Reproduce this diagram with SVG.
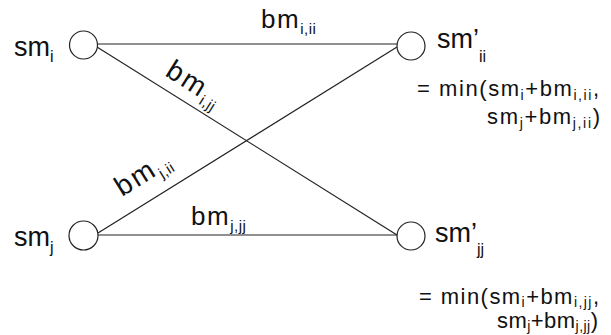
<svg xmlns="http://www.w3.org/2000/svg" width="611" height="335" viewBox="0 0 611 335">
<style>
text{font-family:"Liberation Sans",Arial,sans-serif;fill:#111}
.lbl{font-size:27px}
.sub{font-size:16px}
.edge{font-size:26px;letter-spacing:1.5px}
.diag{font-size:28px;letter-spacing:2.5px}
.esub{font-size:15px;letter-spacing:0.5px}
.f{font-size:22px}
.fs{font-size:14px}
circle{fill:#fff;stroke:#222;stroke-width:1.2}
line{stroke:#222;stroke-width:1.2}
</style>
<rect width="611" height="335" fill="#fff"/>
<g id="connectors">
<line x1="97" y1="44" x2="397" y2="44"/>
<line x1="97" y1="47" x2="397" y2="235"/>
<line x1="98" y1="233" x2="397" y2="47"/>
<line x1="98" y1="235" x2="397" y2="235"/>
<text class="edge" x="261" y="28">bm<tspan class="esub" dy="6">i,ii</tspan></text>
<text class="diag" transform="translate(164,75) rotate(32.2)">bm<tspan class="esub" dy="6">i,jj</tspan></text>
<text class="diag" transform="translate(122,197) rotate(-32)">bm<tspan class="esub" dy="6">j,ii</tspan></text>
<text class="edge" x="191" y="225">bm<tspan class="esub" dy="6">j,jj</tspan></text>
</g>
<g id="node-smi">
<circle cx="83.5" cy="45" r="14"/>
<text class="lbl" x="14" y="56">sm<tspan class="sub" dy="6">i</tspan></text>
</g>
<g id="node-smj">
<circle cx="83.5" cy="235.5" r="14.5"/>
<text class="lbl" x="14" y="246">sm<tspan class="sub" dy="7">j</tspan></text>
</g>
<g id="node-smii">
<circle cx="411" cy="46" r="14"/>
<text class="lbl" x="437" y="48">sm’<tspan class="sub" dy="14">ii</tspan></text>
<text class="f" x="417" y="96" textLength="182" lengthAdjust="spacing">= min(sm<tspan class="fs" dy="4">i</tspan><tspan dy="-4">+bm</tspan><tspan class="fs" dy="4">i,ii</tspan><tspan dy="-4">,</tspan></text>
<text class="f" x="487" y="124" textLength="113" lengthAdjust="spacing">sm<tspan class="fs" dy="4">j</tspan><tspan dy="-4">+bm</tspan><tspan class="fs" dy="4">j,ii</tspan><tspan dy="-4">)</tspan></text>
</g>
<g id="node-smjj">
<circle cx="411" cy="236" r="14"/>
<text class="lbl" x="435" y="242">sm’<tspan class="sub" dy="13">jj</tspan></text>
<text class="f" x="419" y="304" textLength="180" lengthAdjust="spacing">= min(sm<tspan class="fs" dy="3">i</tspan><tspan dy="-3">+bm</tspan><tspan class="fs" dy="3">i,jj</tspan><tspan dy="-3">,</tspan></text>
<text class="f" x="497" y="328" textLength="101" lengthAdjust="spacing">sm<tspan class="fs" dy="3">j</tspan><tspan dy="-3">+bm</tspan><tspan class="fs" dy="3">j,jj</tspan><tspan dy="-3">)</tspan></text>
</g>
</svg>
